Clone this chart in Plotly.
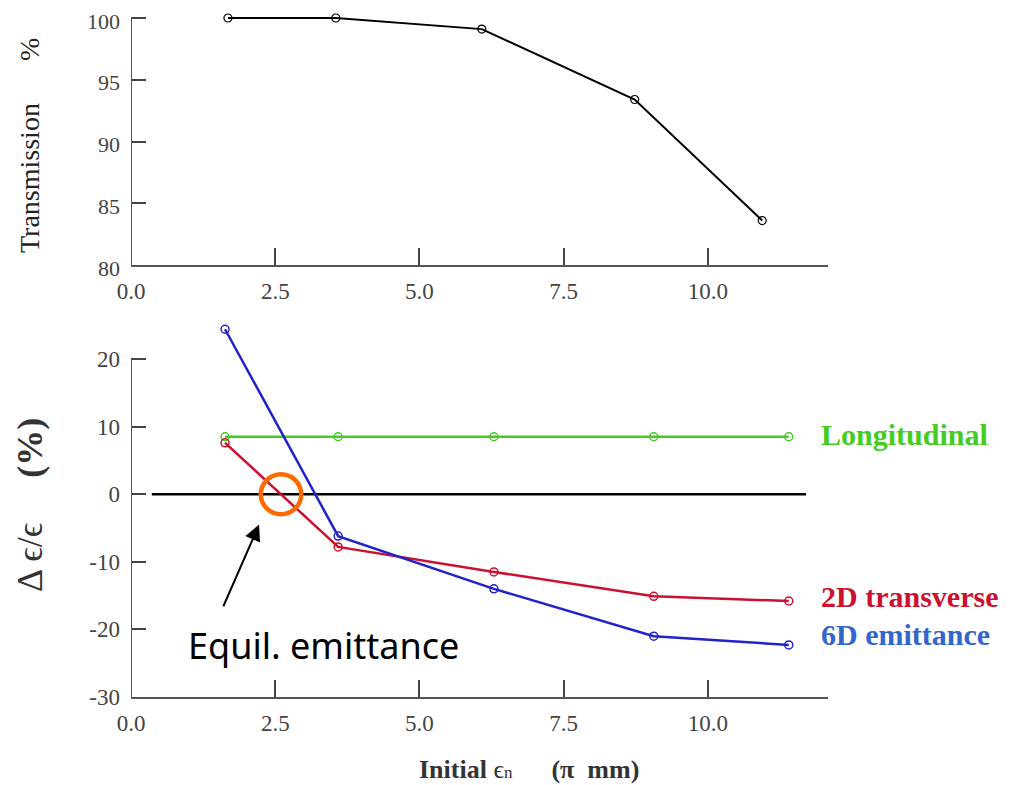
import plotly.graph_objects as go

# --- data ---
trans_x = [1.68, 3.55, 6.08, 8.73, 10.94]
trans_y = [100.0, 100.0, 99.1, 93.4, 83.6]

emit_x = [1.63, 3.59, 6.29, 9.06, 11.40]
long_y = [8.5, 8.5, 8.5, 8.5, 8.5]
trans2d_y = [7.6, -7.8, -11.5, -15.1, -15.8]
emit6d_y = [24.4, -6.2, -14.0, -21.0, -22.3]

xtick_vals = [0, 2.5, 5.0, 7.5, 10.0]
xtick_text = ["0.0", "2.5", "5.0", "7.5", "10.0"]
top_ytick_vals = [80, 85, 90, 95, 100]
top_ytick_text = ["80", "85", "90", "95", "100"]
bot_ytick_vals = [-30, -20, -10, 0, 10, 20]
bot_ytick_text = ["-30", "-20", "-10", "0", "10", "20"]

GREEN = "#44cc22"
RED = "#cc1030"
BLUE = "#2222cc"
BLUE_LBL = "#3366cc"
SERIF = "Liberation Serif, DejaVu Serif, serif"
AXC = "#555555"

# page pixel -> paper helpers (body margin of 8px accounted for)
W, H = 999, 777
ML, MT, MR, MB = 123, 2, 179, 88
PW = W - ML - MR          # 697
PH = H - MT - MB          # 687
def px(p):
    return (p - 8 - ML) / PW
def py(p):
    return (H - MB - (p - 8)) / PH

fig = go.Figure()

fig.add_trace(go.Scatter(x=trans_x, y=trans_y, mode="lines+markers",
                         line=dict(color="black", width=2),
                         marker=dict(symbol="circle-open", size=8, color="black", line=dict(width=1.2)),
                         cliponaxis=False, xaxis="x", yaxis="y", showlegend=False))

fig.add_trace(go.Scatter(x=[0.36, 11.7], y=[0, 0], mode="lines",
                         line=dict(color="black", width=2.4),
                         xaxis="x2", yaxis="y2", showlegend=False, hoverinfo="skip"))

for ys, col in [(long_y, GREEN), (trans2d_y, RED), (emit6d_y, BLUE)]:
    fig.add_trace(go.Scatter(x=emit_x, y=ys, mode="lines+markers",
                             line=dict(color=col, width=2.5),
                             marker=dict(symbol="circle-open", size=8, color=col, line=dict(width=1.5)),
                             cliponaxis=False, xaxis="x2", yaxis="y2", showlegend=False))

axis_common = dict(showgrid=False, zeroline=False, automargin=False,
                   ticks="inside", tickcolor="#444444", tickwidth=2, mirror=False,
                   ticklabeloverflow="allow")
tf23 = dict(family=SERIF, size=23, color="#444444")
tf22 = dict(family=SERIF, size=22, color="#444444")

top_dom = [py(265), 1.0]
top_max = 80 + 20 * (1.0 - top_dom[0]) / (py(18) - top_dom[0])
bot_dom = [0.0, py(322)]
bot_max = -30 + 50 * (bot_dom[1] - 0.0) / (py(359) - 0.0)

fig.update_layout(
    width=W, height=H,
    margin=dict(l=ML, r=MR, t=MT, b=MB, autoexpand=False),
    paper_bgcolor="white", plot_bgcolor="white",
    xaxis=dict(domain=[0, 1], anchor="y", range=[0, 12.08], tickvals=xtick_vals, ticktext=xtick_text,
               ticklen=17, showline=True, linecolor=AXC, linewidth=2, ticklabelstandoff=4,
               tickfont=tf23, **axis_common),
    yaxis=dict(domain=top_dom, anchor="x", range=[80, top_max], tickvals=top_ytick_vals,
               ticktext=top_ytick_text, ticklen=15, showline=False, ticklabelstandoff=10,
               ticklabelshift=3, tickfont=tf22, **axis_common),
    xaxis2=dict(domain=[0, 1], anchor="y2", range=[0, 12.08], tickvals=xtick_vals, ticktext=xtick_text,
                ticklen=17, showline=True, linecolor=AXC, linewidth=2, ticklabelstandoff=4,
                tickfont=tf23, **axis_common),
    yaxis2=dict(domain=bot_dom, anchor="x2", range=[-30, bot_max], tickvals=bot_ytick_vals,
                ticktext=bot_ytick_text, ticklen=15, showline=False, ticklabelstandoff=10,
                tickfont=tf23, **axis_common),
)

# y axis lines (stop at the last tick, like the reference)
fig.add_shape(type="line", xref="x", yref="y", x0=0, x1=0, y0=80, y1=100, line=dict(color=AXC, width=2))
fig.add_shape(type="line", xref="x2", yref="y2", x0=0, x1=0, y0=-30, y1=20, line=dict(color=AXC, width=2))

# axis titles
fig.add_annotation(text="Transmission      %", xref="paper", yref="paper",
                   x=px(29), y=py(146), xanchor="center", yanchor="middle",
                   textangle=-90, showarrow=False,
                   font=dict(family=SERIF, size=28, color="#222222"))
fig.add_annotation(text="Δ ϵ/ϵ     <b>(%)</b>", xref="paper", yref="paper",
                   x=px(30), y=py(505), xanchor="center", yanchor="middle",
                   textangle=-90, showarrow=False,
                   font=dict(family=SERIF, size=36, color="#333333"))
fig.add_annotation(text="<b>Initial</b> ϵ<span style='font-size:17px'>n</span>      <b>(π  mm)</b>",
                   xref="paper", yref="paper",
                   x=px(529), y=py(769), xanchor="center", yanchor="middle", showarrow=False,
                   font=dict(family=SERIF, size=26, color="#333333"))

# series labels
for txt, yv, col in [("Longitudinal", 8.76, GREEN), ("2D transverse", -15.2, RED), ("6D emittance", -20.7, BLUE_LBL)]:
    fig.add_annotation(text="<b>" + txt + "</b>", xref="x2", yref="y2", x=11.93, y=yv,
                       xanchor="left", yanchor="middle", showarrow=False,
                       font=dict(family=SERIF, size=30, color=col))

# orange circle
fig.add_shape(type="circle", xref="x2", yref="y2", x0=2.25, x1=2.95, y0=-2.96, y1=2.96,
              line=dict(color="#ff6a00", width=4.5))

# arrow
fig.add_annotation(xref="x2", yref="y2", axref="x2", ayref="y2",
                   x=2.22, y=-4.5, ax=1.59, ay=-16.8, text="", showarrow=True,
                   arrowhead=2, arrowsize=1.6, arrowwidth=2, arrowcolor="black")

fig.add_annotation(text="Equil. emittance", xref="x2", yref="y2", x=3.33, y=-22.4,
                   xanchor="center", yanchor="middle", showarrow=False,
                   font=dict(family="Noto Sans, sans-serif", size=36, color="black"))

fig.write_html("out.html")
